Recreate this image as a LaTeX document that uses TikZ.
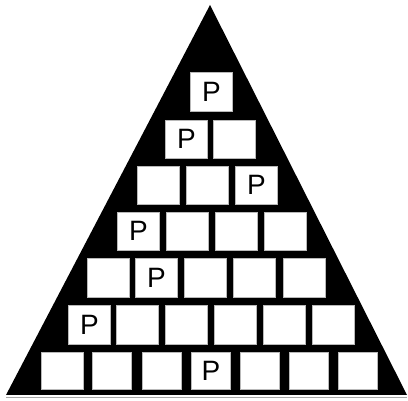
\documentclass[tikz,border=0pt]{standalone}
\usepackage{fontspec}
\setmainfont{Liberation Sans}
\begin{document}
\begin{tikzpicture}[x=1pt, y=-1pt, line join=miter,
  cell/.style={draw=gray!55, line width=0.7pt, fill=white, inner sep=0pt,
    anchor=north west, minimum width=42pt, minimum height=39pt,
    font=\fontsize{28}{30}\selectfont}]
  \useasboundingbox (0,0) rectangle (408,401);

  % Triangle corners
  \coordinate (T) at (210, 5);
  \coordinate (L) at (6, 395);
  \coordinate (R) at (407, 395);

  % Black triangle
  \fill[black] (T) -- (L) -- (R) -- cycle;
  \draw[gray!70, line width=0.8pt] (6, 397.5) -- (407, 397.5);

  % Row 1
  \node[cell] (a1) at (190, 72) {P};
  % Row 2
  \node[cell, minimum height=38pt] (b1) at (165, 120) {P};
  \node[cell, minimum height=38pt] (b2) at (213, 120) {};
  % Row 3
  \node[cell, minimum height=38pt] (c1) at (137, 166) {};
  \node[cell, minimum height=38pt] (c2) at (186, 166) {};
  \node[cell, minimum height=38pt] (c3) at (235, 166) {P};
  % Row 4
  \node[cell, minimum height=38pt] (d1) at (117, 212) {P};
  \node[cell, minimum height=38pt] (d2) at (166, 212) {};
  \node[cell, minimum height=38pt] (d3) at (215, 212) {};
  \node[cell, minimum height=38pt] (d4) at (264, 212) {};
  % Row 5
  \node[cell] (e1) at (87, 258) {};
  \node[cell] (e2) at (135, 258) {P};
  \node[cell] (e3) at (184, 258) {};
  \node[cell] (e4) at (233, 258) {};
  \node[cell] (e5) at (283, 258) {};
  % Row 6
  \node[cell] (f1) at (68, 305) {P};
  \node[cell] (f2) at (116, 305) {};
  \node[cell] (f3) at (165, 305) {};
  \node[cell] (f4) at (214, 305) {};
  \node[cell] (f5) at (263, 305) {};
  \node[cell] (f6) at (312, 305) {};
  % Row 7
  \node[cell, minimum width=42pt, minimum height=37pt] (g1) at (41, 352) {};
  \node[cell, minimum width=39pt, minimum height=37pt] (g2) at (92, 352) {};
  \node[cell, minimum width=39pt, minimum height=37pt] (g3) at (142, 352) {};
  \node[cell, minimum width=39pt, minimum height=37pt] (g4) at (191, 352) {P};
  \node[cell, minimum width=39pt, minimum height=37pt] (g5) at (240, 352) {};
  \node[cell, minimum width=39pt, minimum height=37pt] (g6) at (289, 352) {};
  \node[cell, minimum width=39pt, minimum height=37pt] (g7) at (338, 352) {};
\end{tikzpicture}
\end{document}
